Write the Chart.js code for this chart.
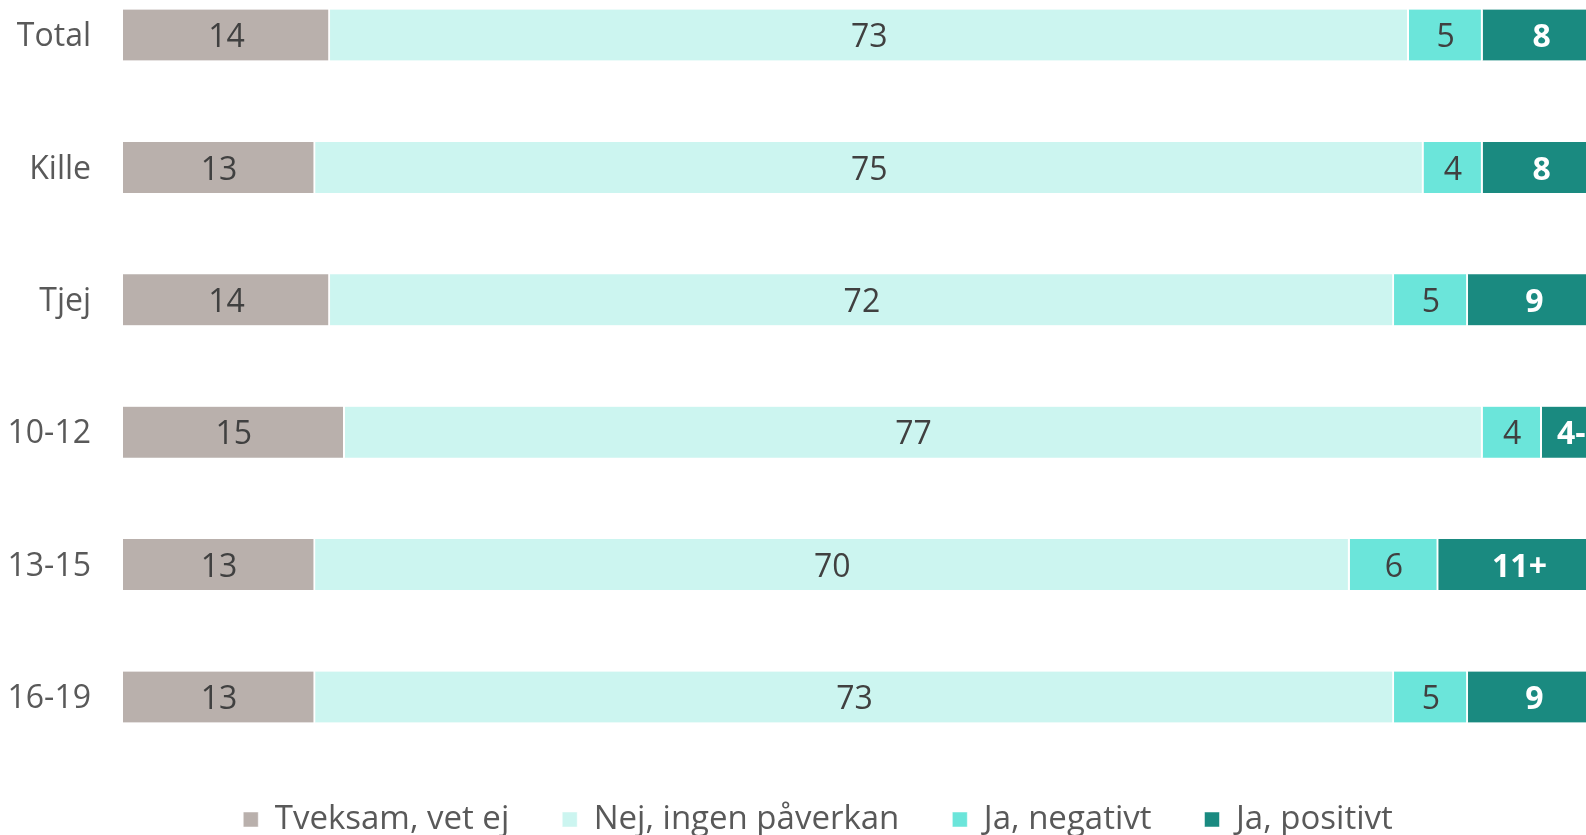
<!DOCTYPE html>
<html>
<head>
<meta charset="utf-8">
<script src="https://cdn.jsdelivr.net/npm/chart.js@4/dist/chart.umd.min.js"></script>
<style>
  html, body { margin: 0; padding: 0; background: #fff; }
  #wrap { width: 1586px; height: 835px; position: relative; }
</style>
</head>
<body>
<div id="wrap"><canvas id="grafico"></canvas></div>
<script>
// Datos
const categorias = ["Total", "Kille", "Tjej", "10-12", "13-15", "16-19"];
const tveksam = [14, 13, 14, 15, 13, 13];
const nej = [73, 75, 72, 77, 70, 73];
const jaNegativt = [5, 4, 5, 4, 6, 5];
const jaPositivt = [8, 8, 9, 4, 11, 9];
const positivtSuffix = ["", "", "", "-", "+", ""];
const serieNamn = ["Tveksam, vet ej", "Nej, ingen påverkan", "Ja, negativt", "Ja, positivt"];
const farger = ["#B9B0AC", "#CCF5F0", "#6BE5DA", "#1A8A80"];

const FONT = "'Open Sans'";

// Etiketter i staplarna
const etiketter = {
  id: "etiketter",
  afterDatasetsDraw(chart) {
    const ctx = chart.ctx;
    ctx.save();
    ctx.textAlign = "center";
    ctx.textBaseline = "middle";
    chart.data.datasets.forEach((ds, i) => {
      const meta = chart.getDatasetMeta(i);
      meta.data.forEach((bar, j) => {
        const { x, y, base } = bar.getProps(["x", "y", "base"], true);
        const cx = (x + base) / 2;
        let text = String(ds.data[j]);
        if (i === 3) {
          text += positivtSuffix[j];
          ctx.fillStyle = "#FFFFFF";
          ctx.font = "bold 32px " + FONT;
        } else {
          ctx.fillStyle = "#404040";
          ctx.font = "32px " + FONT;
        }
        ctx.fillText(text, cx, y + 3);
      });
    });
    ctx.restore();
  },
};

// legenden ligger lite till höger
const flyttaLegend = {
  id: "flyttaLegend",
  afterLayout(chart) {
    chart.legend.left += 25;
    chart.legend.right += 25;
  },
};

const seriesData = [tveksam, nej, jaNegativt, jaPositivt];

new Chart(document.getElementById("grafico"), {
  type: "bar",
  data: {
    labels: categorias,
    datasets: seriesData.map((d, i) => ({
      label: serieNamn[i],
      data: d,
      backgroundColor: farger[i],
      borderColor: "#FFFFFF",
      borderWidth: { top: 0, bottom: 0, left: 0, right: 2 },
      borderSkipped: false,
      barThickness: 51,
      clip: false,
    })),
  },
  options: {
    indexAxis: "y",
    responsive: true,
    maintainAspectRatio: false,
    animation: false,
    layout: { padding: { top: 35, bottom: -11, left: 0, right: 0 } },
    scales: {
      x: {
        stacked: true,
        min: 0,
        max: 99,
        display: true,
        ticks: { display: false },
        grid: { display: false },
        border: { display: false },
        afterFit: (s) => { s.height = 53; s.paddingLeft = 0; s.paddingRight = 0; },
      },
      y: {
        stacked: true,
        offset: false,
        grid: { display: false },
        border: { display: false },
        ticks: {
          color: "#595959",
          font: { family: FONT, size: 32 },
          padding: 24,
          labelOffset: 2,
        },
        afterFit: (s) => { s.width = 123; s.paddingTop = 0; s.paddingBottom = 0; },
      },
    },
    plugins: {
      legend: {
        position: "bottom",
        labels: {
          color: "#595959",
          font: { family: FONT, size: 33, lineHeight: 1 },
          boxWidth: 15,
          boxHeight: 15,
          padding: 53,
        },
      },
      tooltip: { enabled: false },
    },
  },
  plugins: [etiketter, flyttaLegend],
});
</script>
</body>
</html>
